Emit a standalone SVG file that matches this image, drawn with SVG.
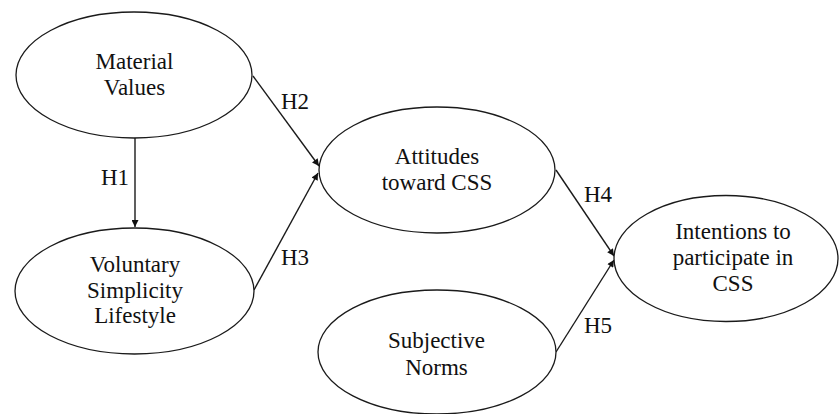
<svg xmlns="http://www.w3.org/2000/svg" width="839" height="414" viewBox="0 0 839 414">
<defs>
<style>
.n{fill:#fff;stroke:#1a1a1a;stroke-width:1.3}
.t{font-family:"Liberation Serif","Times New Roman",serif;font-size:23px;fill:#111;text-anchor:middle}
.l{font-family:"Liberation Serif","Times New Roman",serif;font-size:23px;fill:#111}
.c{stroke:#1a1a1a;stroke-width:1.4;fill:none;marker-end:url(#ah)}
</style>
<marker id="ah" viewBox="0 0 10 10" refX="10" refY="5" markerWidth="9" markerHeight="7" markerUnits="userSpaceOnUse" orient="auto">
<path d="M0,0 L10,5 L0,10 z" fill="#111"/>
</marker>
</defs>
<rect width="839" height="414" fill="#fff"/>
<g id="connectors">
<line class="c" x1="135" y1="138" x2="135" y2="227"/>
<line class="c" x1="253" y1="76" x2="319" y2="166"/>
<line class="c" x1="254" y1="290" x2="318" y2="173"/>
<line class="c" x1="556" y1="170" x2="614" y2="256"/>
<line class="c" x1="556" y1="352" x2="614" y2="260"/>
<text class="l" x="101" y="185">H1</text>
<text class="l" x="281" y="109">H2</text>
<text class="l" x="281" y="265">H3</text>
<text class="l" x="584" y="202">H4</text>
<text class="l" x="584" y="333">H5</text>
</g>
<g id="material-values">
<ellipse class="n" cx="134" cy="75" rx="118" ry="63"/>
<text class="t" x="134.5" y="69">Material</text>
<text class="t" x="134.5" y="95">Values</text>
</g>
<g id="voluntary-simplicity">
<ellipse class="n" cx="134.5" cy="291" rx="119.5" ry="63"/>
<text class="t" x="135" y="272">Voluntary</text>
<text class="t" x="135" y="298">Simplicity</text>
<text class="t" x="135" y="323">Lifestyle</text>
</g>
<g id="attitudes">
<ellipse class="n" cx="437" cy="170" rx="118" ry="63"/>
<text class="t" x="437" y="164">Attitudes</text>
<text class="t" x="437" y="190">toward CSS</text>
</g>
<g id="subjective-norms">
<ellipse class="n" cx="437" cy="352" rx="119" ry="62"/>
<text class="t" x="436.5" y="348">Subjective</text>
<text class="t" x="436.5" y="375">Norms</text>
</g>
<g id="intentions">
<ellipse class="n" cx="726" cy="258.5" rx="112" ry="63"/>
<text class="t" x="733" y="239">Intentions to</text>
<text class="t" x="733" y="265">participate in</text>
<text class="t" x="733" y="291">CSS</text>
</g>
</svg>
